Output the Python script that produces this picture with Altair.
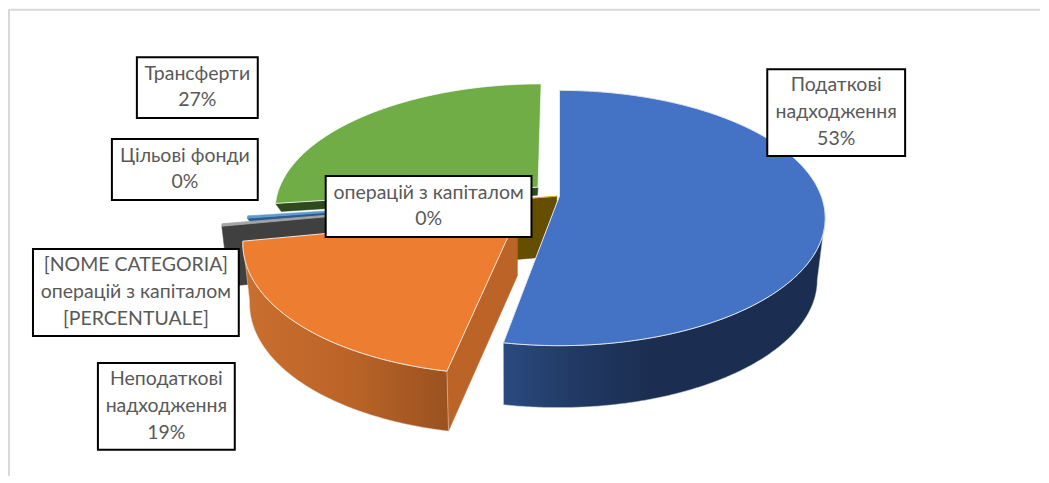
import math
import altair as alt
import pandas as pd

W, H = 1033, 467

# --- chart values ---
names = ["Податкові надходження", "Неподаткові надходження", "[NOME CATEGORIA]",
         "операцій з капіталом", "Цільові фонди", "Трансферти"]
shares = [52.85, 19.15, 0.3, 0.3, 0.3, 27.1]

# --- appearance of each slice: explosion, thickness, colours ---
explode = [0.0, 0.22, 0.26, 0.01, 0.17, 0.11]
start_gap = [0.0, 0.7, 0.0, 0.0, 0.0, 0.0]
depth = [62, 60, 60, 60, 8, 8]
top_colors = ["#4472C4", "#ED7D31", "#A5A5A5", "#FFC000", "#5B9BD5", "#70AD47"]
wall_colors = ["#1B2D50", "#BC6428", "#404040", "#664E00", "#2E5A8C", "#2F4A1E"]

# --- label boxes ---
box_x = [768, 137, 112, 326, 33, 98]
box_x2 = [906, 258, 258, 532, 239, 235]
box_y = [68, 56, 138, 175, 248, 362]
box_y2 = [155, 117, 199, 236, 335, 449]
label_lines = [
    ["Податкові", "надходження", "53%"],
    ["Трансферти", "27%"],
    ["Цільові фонди", "0%"],
    ["операцій з капіталом", "0%"],
    ["[NOME CATEGORIA]", "операцій з капіталом", "[PERCENTUALE]"],
    ["Неподаткові", "надходження", "19%"],
]
line_step = 26.7

# --- perspective of the pie plane ---
CX, CY, RX, RY, K = 560, 195, 262, 124, 0.172
BLUE_WALL_START = 100


def project(px, py):
    d = 1 + K * py
    return CX + RX * px / d, CY - RY * py / d


def rim(theta, e, mid):
    t = math.radians(theta)
    m = math.radians(mid)
    return project(math.sin(t) + e * math.sin(m), math.cos(t) + e * math.cos(m))


def apex(e, mid):
    m = math.radians(mid)
    return project(e * math.sin(m), e * math.cos(m))


def lower(p, d):
    return 510 + 0.975 * (p[0] - 510), p[1] + d


def arc_points(a, b, e, mid):
    n = max(2, int(abs(b - a) * 2))
    return [rim(a + (b - a) * i / n, e, mid) for i in range(n + 1)]


X = alt.X("x:Q", axis=None, scale=alt.Scale(domain=[8, 8 + W], range=[0, W], nice=False))
Y = alt.Y("y:Q", axis=None, scale=alt.Scale(domain=[8, 8 + H], range=[0, H], nice=False))


def shape(points, **mark):
    pts = list(points) + [points[0]]
    df = pd.DataFrame({"x": [p[0] for p in pts], "y": [p[1] for p in pts], "i": range(len(pts))})
    return alt.Chart(df).mark_line(**mark).encode(x=X, y=Y, order="i:Q")


def gradient(stops):
    return alt.Gradient(gradient="linear", x1=0, x2=1, y1=0, y2=0,
                        stops=[alt.GradientStop(offset=o, color=c) for o, c in stops])


# slice angles
total = sum(shares)
angles = []
acc = 0.0
for s, g in zip(shares, start_gap):
    angles.append((acc * 360 / total + g, (acc + s) * 360 / total))
    acc += s

layers = []

# frame of the embedded picture
frame = pd.DataFrame({"x": [9, 9], "x2": [1041, 9], "y": [8.5, 8], "y2": [8.5, 475]})
layers.append(alt.Chart(frame).mark_rule(color="#D9D9D9", strokeWidth=2).encode(
    x=X, x2="x2:Q", y=Y, y2="y2:Q"))


def radial_wall(i, theta):
    a, b = angles[i]
    mid = (a + b) / 2
    c = apex(explode[i], mid)
    r = rim(theta, explode[i], mid)
    d = depth[i]
    return [c, r, lower(r, d), lower(c, d)]


def top(i):
    a, b = angles[i]
    mid = (a + b) / 2
    return [apex(explode[i], mid)] + arc_points(a, b, explode[i], mid)


def outer_wall(i, a, b):
    mid = sum(angles[i]) / 2
    arc = arc_points(a, b, explode[i], mid)
    return arc + [lower(p, depth[i]) for p in reversed(arc)]


# far to near: green, gold, light blue, grey, orange, blue
layers.append(shape(radial_wall(5, angles[5][0]), fill=wall_colors[5], stroke=wall_colors[5], strokeWidth=0.5))
layers.append(shape(top(5), fill=top_colors[5], stroke="#FFFFFF", strokeWidth=0.8))

layers.append(shape(radial_wall(3, angles[3][0]), fill=wall_colors[3], stroke=wall_colors[3], strokeWidth=0.5))
layers.append(shape(top(3), fill=top_colors[3], stroke=top_colors[3], strokeWidth=0.5))

layers.append(shape(radial_wall(4, angles[4][0]), fill=wall_colors[4], stroke=wall_colors[4], strokeWidth=0.5))
layers.append(shape(top(4), fill=top_colors[4], stroke=top_colors[4], strokeWidth=0.5))

layers.append(shape(radial_wall(2, angles[2][0]), fill=wall_colors[2], stroke=wall_colors[2], strokeWidth=0.5))
layers.append(shape(top(2), fill=top_colors[2], stroke=top_colors[2], strokeWidth=0.8))

# orange
layers.append(shape(radial_wall(1, angles[1][0]), fill=wall_colors[1], stroke=wall_colors[1], strokeWidth=0.5))
layers.append(shape(outer_wall(1, angles[1][0], angles[1][1]),
                    fill=gradient([(0, "#C9702F"), (0.5, "#BC6428"), (1, "#9A5220")]),
                    stroke="#E8D8C8", strokeWidth=0.5))
layers.append(shape(top(1), fill=top_colors[1], stroke="#F4E4D8", strokeWidth=1))

# blue
layers.append(shape(outer_wall(0, BLUE_WALL_START, angles[0][1]),
                    fill=gradient([(0, "#2A4A80"), (0.26, "#20375F"), (0.48, "#1B2D50"), (1, "#1B2D50")]),
                    stroke="#C8D0DC", strokeWidth=0.5))
layers.append(shape(top(0), fill=top_colors[0], stroke="#E4E8F0", strokeWidth=1))

# label boxes
boxes = pd.DataFrame({"x": box_x, "x2": box_x2, "y": box_y, "y2": box_y2})
layers.append(alt.Chart(boxes).mark_rect(fill="#FFFFFF", stroke="#000000", strokeWidth=2).encode(
    x=X, x2="x2:Q", y=Y, y2="y2:Q"))

rows = []
for lines, x0, x1, y0, y1 in zip(label_lines, box_x, box_x2, box_y, box_y2):
    mid_y = (y0 + y1) / 2 - 0.5
    for j, line in enumerate(lines):
        rows.append({"x": (x0 + x1) / 2, "y": mid_y + (j - (len(lines) - 1) / 2) * line_step, "t": line})
layers.append(alt.Chart(pd.DataFrame(rows)).mark_text(
    font="Lato", fontSize=19.5, color="#595959", align="center", baseline="middle"
).encode(x=X, y=Y, text="t:N"))

chart = alt.layer(*layers).properties(width=W, height=H, padding=0, background="#FFFFFF").configure_view(stroke=None)
chart.save("out.html", embed_options={"renderer": "svg", "actions": False})
